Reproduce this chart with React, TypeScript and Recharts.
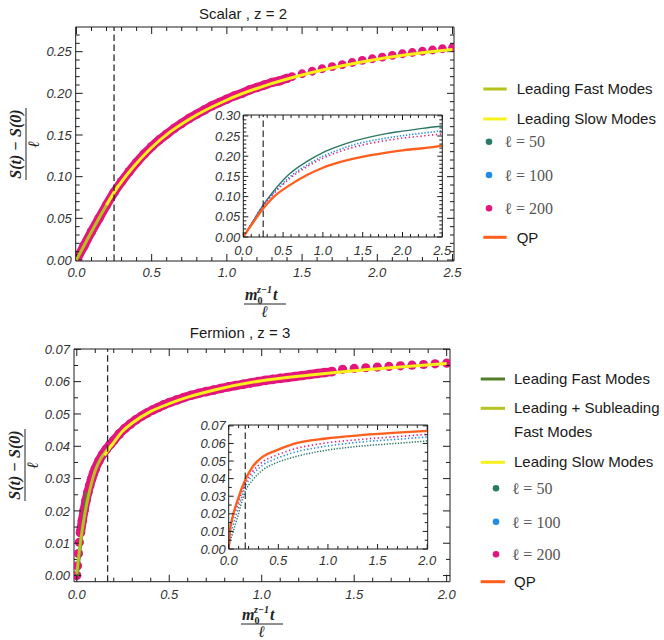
import React from 'react';
import { ComposedChart, Line, Scatter, XAxis, YAxis, ReferenceLine } from 'recharts';

// ---------------- DATA ----------------
// Scalar, z = 2 (main plot)
const scalarL200Dense: number[][] = [
  [0, 0], [0.05, 0.017], [0.1, 0.034], [0.15, 0.05], [0.2, 0.066], [0.25, 0.081],
  [0.3, 0.094], [0.35, 0.106], [0.4, 0.117], [0.45, 0.127], [0.5, 0.136], [0.55, 0.144],
  [0.6, 0.151], [0.65, 0.158], [0.7, 0.164], [0.75, 0.17], [0.8, 0.175], [0.85, 0.18],
  [0.9, 0.185], [0.95, 0.189], [1.0, 0.193], [1.05, 0.197], [1.1, 0.2], [1.15, 0.204],
  [1.2, 0.207], [1.25, 0.21], [1.3, 0.213], [1.35, 0.215], [1.4, 0.218],
];
const scalarL200Sparse: number[][] = [
  [1.433, 0.22], [1.5, 0.2235], [1.567, 0.2265], [1.633, 0.2295], [1.7, 0.232], [1.767, 0.2345],
  [1.833, 0.237], [1.9, 0.2395], [1.967, 0.2415], [2.033, 0.2435], [2.1, 0.2455], [2.167, 0.2475],
  [2.233, 0.249], [2.3, 0.2505], [2.367, 0.252], [2.433, 0.2535], [2.5, 0.255],
];
const scalarFast: number[][] = [[0, 0], [0.1, 0.034], [0.2, 0.066], [0.28, 0.09]];
const scalarSlow: number[][] = [
  [0.2, 0.066], [0.25, 0.081], [0.375, 0.111], [0.5, 0.135], [0.625, 0.154], [0.75, 0.169],
  [1.0, 0.192], [1.25, 0.209], [1.5, 0.222], [1.75, 0.2325], [2.0, 0.241], [2.25, 0.2475], [2.5, 0.2525],
];
const scalarTimeScale = 0.25;

// Scalar inset
const scalarInsetX = [0, 0.125, 0.25, 0.375, 0.585, 0.8, 1.0, 1.2, 1.4, 1.6, 1.8, 2.0, 2.25, 2.5];
const scalarInsetL50 = [0, 0.04, 0.079, 0.112, 0.157, 0.187, 0.209, 0.225, 0.238, 0.248, 0.256, 0.262, 0.269, 0.275];
const scalarInsetL100 = [0, 0.04, 0.078, 0.108, 0.149, 0.178, 0.2, 0.216, 0.229, 0.238, 0.245, 0.251, 0.257, 0.263];
const scalarInsetL200 = [0, 0.04, 0.078, 0.106, 0.145, 0.174, 0.195, 0.211, 0.223, 0.232, 0.239, 0.245, 0.25, 0.255];
const scalarInsetQP = [0, 0.036, 0.0705, 0.098, 0.1285, 0.1535, 0.1715, 0.1845, 0.1945, 0.2025, 0.209, 0.2145, 0.2197, 0.2264];

// Fermion, z = 3 (main plot)
const fermionL200Start: number[][] = [[0, 0], [0.004, 0.003], [0.009, 0.0068], [0.014, 0.0103]];
const fermionL200Dense: number[][] = [
  [0.02, 0.0133], [0.03, 0.017], [0.04, 0.0203], [0.05, 0.0232], [0.06, 0.0257], [0.07, 0.0279],
  [0.08, 0.0298], [0.09, 0.0315], [0.1, 0.033], [0.12, 0.0355], [0.14, 0.0375], [0.16, 0.0391],
  [0.18, 0.0405], [0.2, 0.0418], [0.23, 0.0438], [0.26, 0.0455], [0.29, 0.0469], [0.32, 0.0482],
  [0.35, 0.0493], [0.38, 0.0503], [0.41, 0.0512], [0.44, 0.052], [0.47, 0.0528], [0.5, 0.0535],
  [0.54, 0.0543], [0.58, 0.0551], [0.62, 0.0558], [0.66, 0.0564], [0.7, 0.0569], [0.74, 0.0574],
  [0.78, 0.0579], [0.82, 0.0584], [0.86, 0.0588], [0.9, 0.0592], [0.94, 0.0596], [0.98, 0.06],
  [1.02, 0.0604], [1.06, 0.0607], [1.1, 0.061], [1.14, 0.0613], [1.18, 0.0616], [1.22, 0.0619],
  [1.26, 0.0622], [1.3, 0.0625], [1.34, 0.0628], [1.38, 0.0631],
];
const fermionL200Sparse: number[][] = [
  [1.4375, 0.0638], [1.5, 0.0641], [1.5625, 0.0643], [1.625, 0.0645], [1.6875, 0.0647],
  [1.75, 0.0649], [1.8125, 0.0651], [1.875, 0.0653], [1.9375, 0.0655], [2.0, 0.0657],
];
const fermionFast: number[][] = [[0.003, 0], [0.03, 0.0145], [0.054, 0.0257]];
const fermionFastSub: number[][] = [
  [0, 0.0005], [0.01, 0.0058], [0.02, 0.0103], [0.03, 0.0143], [0.04, 0.0178], [0.05, 0.021],
  [0.06, 0.0238], [0.08, 0.0287], [0.1, 0.0325], [0.13, 0.0362], [0.16, 0.0386], [0.2, 0.041],
];
const fermionSlow: number[][] = [
  [0.15, 0.0372], [0.2, 0.0412], [0.25, 0.0448], [0.3, 0.0472], [0.4, 0.0508], [0.5, 0.0532],
  [0.6, 0.0552], [0.75, 0.0575], [1.0, 0.0603], [1.25, 0.062], [1.5, 0.0634], [1.75, 0.0645], [2.0, 0.0656],
];
const fermionTimeScale = 0.1667;

// Fermion inset
const fermionInsetX = [0, 0.013, 0.04, 0.09, 0.165, 0.24, 0.34, 0.48, 0.64, 0.98, 1.31, 1.65, 2.0];
const fermionInsetQP = [0, 0.0108, 0.0183, 0.0278, 0.0391, 0.0467, 0.0524, 0.0561, 0.0595, 0.0628, 0.0646, 0.066, 0.0671];
const fermionInsetL200 = [0, 0.0085, 0.0164, 0.025, 0.0372, 0.0439, 0.0495, 0.0533, 0.0565, 0.0603, 0.0622, 0.0637, 0.0652];
const fermionInsetL100 = [0, 0.006, 0.0127, 0.0221, 0.0353, 0.042, 0.0476, 0.0514, 0.0546, 0.0584, 0.0607, 0.0622, 0.0637];
const fermionInsetL50 = [0, 0.004, 0.0089, 0.0183, 0.0325, 0.0391, 0.0448, 0.049, 0.052, 0.0561, 0.0584, 0.0599, 0.0614];

// Legends / titles
const scalarTitle = 'Scalar , z = 2';
const fermionTitle = 'Fermion , z = 3';
const scalarLegendLines = ['Leading Fast Modes', 'Leading Slow Modes'];
const fermionLegendLines = ['Leading Fast Modes', 'Leading + Subleading', 'Fast Modes', 'Leading Slow Modes'];
const dotLabels = ['ℓ = 50', 'ℓ = 100', 'ℓ = 200'];
const qpLabel = 'QP';

// ---------------- STYLE ----------------
const C = {
  fast: '#b4c21c',
  fastDark: '#537d29',
  sub: '#b6c320',
  slow: '#f7f01a',
  l50: '#2b7866',
  l100: '#1f8be6',
  l200: '#e2167d',
  qp: '#ff5f1c',
  frame: '#1c1c1c',
  dash: '#2a2a2a',
  tickText: '#333333',
};
const SANS = '"Liberation Sans", Arial, sans-serif';
const SERIF = '"Liberation Serif", "DejaVu Serif", serif';

const pts = (a: number[][]) => a.map(([x, y]) => ({ x, y }));
const zip = (xs: number[], ys: number[]) => xs.map((x, i) => ({ x, y: ys[i] }));
const steps = (a: number, b: number, s: number) => {
  const out: number[] = [];
  const n = Math.round((b - a) / s);
  for (let i = 0; i <= n; i++) out.push(+(a + i * s).toFixed(6));
  return out;
};

type Side = 'bottom' | 'top' | 'left' | 'right';
const tickR = (
  side: Side,
  majors: number[],
  digits: number,
  majorLen: number,
  minorLen: number,
  labels: boolean,
  off: number,
) => (props: any) => {
  const { x, y, payload } = props;
  const v = payload.value as number;
  const isMajor = majors.some((m) => Math.abs(m - v) < 1e-9);
  const L = isMajor ? majorLen : minorLen;
  let x2 = x;
  let y2 = y;
  if (side === 'bottom') y2 = y - L;
  if (side === 'top') y2 = y + L;
  if (side === 'left') x2 = x + L;
  if (side === 'right') x2 = x - L;
  let label: React.ReactNode = null;
  if (labels && isMajor) {
    const common = { fontFamily: SANS, fontStyle: 'italic', fontSize: 13, fill: C.tickText };
    if (side === 'bottom')
      label = (
        <text x={x} y={y + off} textAnchor="middle" {...common}>
          {v.toFixed(digits)}
        </text>
      );
    if (side === 'left')
      label = (
        <text x={x - off} y={y + 4.6} textAnchor="end" {...common}>
          {v.toFixed(digits)}
        </text>
      );
  }
  return (
    <g>
      <line x1={x} y1={y} x2={x2} y2={y2} stroke={C.frame} strokeWidth={1} />
      {label}
    </g>
  );
};

type FrameCfg = {
  w: number;
  h: number;
  left: number;
  right: number;
  top: number;
  bottom: number;
  xDomain: [number, number];
  yDomain: [number, number];
  xTicks: number[];
  xMajors: number[];
  yTicks: number[];
  yMajors: number[];
  xDigits: number;
  yDigits: number;
  majorLen: number;
  minorLen: number;
  xOff: number;
  yOff: number;
};

// visible=false gives the same scales with no drawn axis (for an overlay layer)
function frameAxes(f: FrameCfg, visible = true) {
  const axisLine = visible ? { stroke: C.frame, strokeWidth: 1 } : false;
  const tk = (side: Side, majors: number[], digits: number, labels: boolean, off: number) =>
    visible ? tickR(side, majors, digits, f.majorLen, f.minorLen, labels, off) : false;
  return [
    <XAxis
      key="xb"
      type="number"
      dataKey="x"
      domain={f.xDomain}
      allowDataOverflow
      ticks={f.xTicks}
      interval={0}
      height={f.bottom}
      tickSize={0}
      tickMargin={0}
      tickLine={false}
      axisLine={axisLine}
      tick={tk('bottom', f.xMajors, f.xDigits, true, f.xOff)}
    />,
    <XAxis
      key="xt"
      xAxisId="top"
      orientation="top"
      type="number"
      dataKey="x"
      domain={f.xDomain}
      allowDataOverflow
      ticks={f.xTicks}
      interval={0}
      height={f.top}
      tickSize={0}
      tickMargin={0}
      tickLine={false}
      axisLine={axisLine}
      tick={tk('top', f.xMajors, f.xDigits, false, 0)}
    />,
    <YAxis
      key="yl"
      type="number"
      dataKey="y"
      domain={f.yDomain}
      allowDataOverflow
      ticks={f.yTicks}
      interval={0}
      width={f.left}
      tickSize={0}
      tickMargin={0}
      tickLine={false}
      axisLine={axisLine}
      tick={tk('left', f.yMajors, f.yDigits, true, f.yOff)}
    />,
    <YAxis
      key="yr"
      yAxisId="right"
      orientation="right"
      type="number"
      dataKey="y"
      domain={f.yDomain}
      allowDataOverflow
      ticks={f.yTicks}
      interval={0}
      width={f.right}
      tickSize={0}
      tickMargin={0}
      tickLine={false}
      axisLine={axisLine}
      tick={tk('right', f.yMajors, f.yDigits, false, 0)}
    />,
  ];
}

const noMargin = { top: 0, right: 0, bottom: 0, left: 0 };
const layerStyle: React.CSSProperties = { position: 'absolute', left: 0, top: 0 };

const dotShape = (r: number, fill: string) => (p: any) => <circle cx={p.cx} cy={p.cy} r={r} fill={fill} />;

const dashLine = (x: number, w = 1.3) => (
  <ReferenceLine x={x} stroke={C.dash} strokeWidth={w} strokeDasharray="6.5 3.5" ifOverflow="hidden" />
);

const line = (data: { x: number; y: number }[], color: string, width: number, dash?: string) => (
  <Line
    data={data}
    dataKey="y"
    type="monotone"
    stroke={color}
    strokeWidth={width}
    strokeDasharray={dash}
    dot={false}
    activeDot={false}
    isAnimationActive={false}
  />
);

const scalarMainCfg: FrameCfg = {
  w: 664, h: 320, left: 75.7, right: 210, top: 27, bottom: 59,
  xDomain: [-0.005, 2.51], yDomain: [-0.0012, 0.2796],
  xTicks: steps(0, 2.5, 0.1), xMajors: steps(0, 2.5, 0.5),
  yTicks: steps(0, 0.27, 0.01), yMajors: steps(0, 0.25, 0.05),
  xDigits: 1, yDigits: 2, majorLen: 7, minorLen: 4, xOff: 16, yOff: 4,
};

function ScalarMain() {
  const f = scalarMainCfg;
  return (
    <div style={{ position: 'relative', width: f.w, height: f.h }}>
      <div style={layerStyle}>
        <ComposedChart width={f.w} height={f.h} margin={noMargin}>
          {frameAxes(f)}
          <Line
            data={pts(scalarL200Dense)}
            dataKey="y"
            type="monotone"
            stroke={C.l200}
            strokeWidth={9}
            strokeLinecap="round"
            dot={{ r: 4.7, fill: C.l200, stroke: 'none' }}
            activeDot={false}
            isAnimationActive={false}
          />
          <Scatter data={pts(scalarL200Sparse)} dataKey="y" shape={dotShape(4.4, C.l200)} isAnimationActive={false} />
        </ComposedChart>
      </div>
      <div style={layerStyle}>
        <ComposedChart width={f.w} height={f.h} margin={noMargin}>
          {frameAxes(f, false)}
          {line(pts(scalarFast), C.fast, 3)}
          {line(pts(scalarSlow), C.slow, 3)}
          {dashLine(scalarTimeScale)}
        </ComposedChart>
      </div>
    </div>
  );
}

function ScalarInset() {
  const f: FrameCfg = {
    w: 262, h: 170, left: 43.3, right: 19.7, top: 15, bottom: 33,
    xDomain: [0, 2.5], yDomain: [0, 0.302],
    xTicks: steps(0, 2.5, 0.1), xMajors: steps(0, 2.5, 0.5),
    yTicks: steps(0, 0.3, 0.01), yMajors: steps(0, 0.3, 0.05),
    xDigits: 1, yDigits: 2, majorLen: 5, minorLen: 3, xOff: 18, yOff: 3,
  };
  return (
    <ComposedChart width={f.w} height={f.h} margin={noMargin}>
      {frameAxes(f)}
      {line(zip(scalarInsetX, scalarInsetL50), C.l50, 1.4)}
      {line(zip(scalarInsetX, scalarInsetL100), C.l100, 1.6, '1.3 1.8')}
      {line(zip(scalarInsetX, scalarInsetL200), C.l200, 1.6, '1.3 2.6')}
      {line(zip(scalarInsetX, scalarInsetQP), C.qp, 2.3)}
      {dashLine(scalarTimeScale, 1.2)}
    </ComposedChart>
  );
}

const fermionMainCfg: FrameCfg = {
  w: 664, h: 320, left: 74, right: 214, top: 29, bottom: 58.3,
  xDomain: [-0.015, 2.018], yDomain: [-0.0019, 0.0701],
  xTicks: steps(0, 2.0, 0.1), xMajors: steps(0, 2.0, 0.5),
  yTicks: steps(0, 0.07, 0.005), yMajors: steps(0, 0.07, 0.01),
  xDigits: 1, yDigits: 2, majorLen: 7, minorLen: 4, xOff: 17, yOff: 4,
};

function FermionMain() {
  const f = fermionMainCfg;
  return (
    <div style={{ position: 'relative', width: f.w, height: f.h }}>
      <div style={layerStyle}>
        <ComposedChart width={f.w} height={f.h} margin={noMargin}>
          {frameAxes(f)}
          <Scatter data={pts(fermionL200Start)} dataKey="y" shape={dotShape(4.6, C.l200)} isAnimationActive={false} />
          <Line
            data={pts(fermionL200Dense)}
            dataKey="y"
            type="monotone"
            stroke={C.l200}
            strokeWidth={9}
            strokeLinecap="round"
            dot={{ r: 4.8, fill: C.l200, stroke: 'none' }}
            activeDot={false}
            isAnimationActive={false}
          />
          <Scatter data={pts(fermionL200Sparse)} dataKey="y" shape={dotShape(4.6, C.l200)} isAnimationActive={false} />
        </ComposedChart>
      </div>
      <div style={layerStyle}>
        <ComposedChart width={f.w} height={f.h} margin={noMargin}>
          {frameAxes(f, false)}
          {line(pts(fermionFast), C.fastDark, 3)}
          {line(pts(fermionFastSub), C.sub, 3)}
          {line(pts(fermionSlow), C.slow, 3)}
          {dashLine(fermionTimeScale)}
        </ComposedChart>
      </div>
    </div>
  );
}

function FermionInset() {
  const f: FrameCfg = {
    w: 258, h: 165, left: 38.7, right: 20.3, top: 10, bottom: 31,
    xDomain: [0, 2.005], yDomain: [0, 0.0705],
    xTicks: steps(0, 2.0, 0.1), xMajors: steps(0, 2.0, 0.5),
    yTicks: steps(0, 0.07, 0.005), yMajors: steps(0, 0.07, 0.01),
    xDigits: 1, yDigits: 2, majorLen: 5, minorLen: 3, xOff: 16, yOff: 3,
  };
  return (
    <ComposedChart width={f.w} height={f.h} margin={noMargin}>
      {frameAxes(f)}
      {line(zip(fermionInsetX, fermionInsetL50), C.l50, 1.5, '1.3 1.5')}
      {line(zip(fermionInsetX, fermionInsetL100), C.l100, 1.6, '1.3 2.2')}
      {line(zip(fermionInsetX, fermionInsetL200), C.l200, 1.6, '1.3 2.6')}
      {line(zip(fermionInsetX, fermionInsetQP), C.qp, 2.4)}
      {dashLine(fermionTimeScale, 1.2)}
    </ComposedChart>
  );
}

function YFrac({ cx, cy }: { cx: number; cy: number }) {
  return (
    <g transform={`translate(${cx},${cy}) rotate(-90)`}>
      <text x={0} y={-5} textAnchor="middle" fontFamily={SERIF} fontStyle="italic" fontWeight="bold" fontSize={16} fill="#222">
        S(t) − S(0)
      </text>
      <line x1={-36} x2={36} y1={0} y2={0} stroke="#222" strokeWidth={1} />
      <text x={0} y={13} textAnchor="middle" fontFamily={SERIF} fontStyle="italic" fontWeight="bold" fontSize={16} fill="#222">
        ℓ
      </text>
    </g>
  );
}

function XFrac({ cx, base }: { cx: number; base: number }) {
  return (
    <g>
      <text x={cx - 20} y={base} fontFamily={SERIF} fontStyle="italic" fontWeight="bold" fontSize={16} fill="#222">
        m
        <tspan dy={4} fontSize={10} fontStyle="normal">0</tspan>
        <tspan dx={-5.5} dy={-11} fontSize={10}>z−1</tspan>
        <tspan dx={1} dy={7}>t</tspan>
      </text>
      <line x1={cx - 21} x2={cx + 21} y1={base + 4} y2={base + 4} stroke="#222" strokeWidth={1} />
      <text x={cx} y={base + 17} textAnchor="middle" fontFamily={SERIF} fontStyle="italic" fontWeight="bold" fontSize={16} fill="#222">
        ℓ
      </text>
    </g>
  );
}

function LegendLine({ x1, x2, y, color }: { x1: number; x2: number; y: number; color: string }) {
  return <line x1={x1} x2={x2} y1={y} y2={y} stroke={color} strokeWidth={3} />;
}

function Overlay() {
  const t = { fontFamily: SANS, fontSize: 15, fill: '#1a1a1a' };
  const m = { fontFamily: SERIF, fontSize: 16, fill: '#555' };
  const dotColors = [C.l50, C.l100, C.l200];
  const sDotY = [141.7, 175, 208.3];
  const fDotY = [488.3, 521.7, 554.3];
  return (
    <svg width={664} height={640} style={{ position: 'absolute', left: 0, top: 0, pointerEvents: 'none' }}>
      <text x={243} y={18.5} textAnchor="middle" {...t}>{scalarTitle}</text>
      <text x={240} y={338.3} textAnchor="middle" {...t}>{fermionTitle}</text>

      <YFrac cx={26} cy={144} />
      <YFrac cx={25} cy={465} />
      <XFrac cx={265} base={300} />
      <XFrac cx={262} base={620} />

      {/* Scalar legend */}
      <LegendLine x1={483.3} x2={506.7} y={89} color={C.fast} />
      <text x={516.7} y={94} {...t}>{scalarLegendLines[0]}</text>
      <LegendLine x1={483.3} x2={506.7} y={119} color={C.slow} />
      <text x={516.7} y={123.5} {...t}>{scalarLegendLines[1]}</text>
      {dotLabels.map((lab, i) => (
        <g key={'s' + i}>
          <circle cx={489} cy={sDotY[i]} r={3.3} fill={dotColors[i]} />
          <text x={504.3} y={sDotY[i] + 5.5} {...m}>{lab}</text>
        </g>
      ))}
      <LegendLine x1={483.3} x2={506.7} y={237.3} color={C.qp} />
      <text x={516.7} y={242.7} {...t}>{qpLabel}</text>

      {/* Fermion legend */}
      <LegendLine x1={480.7} x2={505} y={379} color={C.fastDark} />
      <text x={514} y={384} {...t}>{fermionLegendLines[0]}</text>
      <LegendLine x1={480.7} x2={505} y={408.3} color={C.sub} />
      <text x={514} y={413.3} {...t}>{fermionLegendLines[1]}</text>
      <text x={514} y={436.7} {...t}>{fermionLegendLines[2]}</text>
      <LegendLine x1={480.7} x2={505} y={462.3} color={C.slow} />
      <text x={514} y={467.3} {...t}>{fermionLegendLines[3]}</text>
      {dotLabels.map((lab, i) => (
        <g key={'f' + i}>
          <circle cx={496} cy={fDotY[i]} r={3.3} fill={dotColors[i]} />
          <text x={511.7} y={fDotY[i] + 6} {...m}>{lab}</text>
        </g>
      ))}
      <LegendLine x1={480.7} x2={505} y={581.7} color={C.qp} />
      <text x={514} y={586.7} {...t}>{qpLabel}</text>
    </svg>
  );
}

export default function App() {
  return (
    <div style={{ position: 'absolute', left: 0, top: 0, width: 664, height: 640, background: '#fff', overflow: 'hidden' }}>
      <div style={{ position: 'absolute', left: 0, top: 0 }}>
        <ScalarMain />
      </div>
      <div style={{ position: 'absolute', left: 200, top: 100 }}>
        <ScalarInset />
      </div>
      <div style={{ position: 'absolute', left: 0, top: 320 }}>
        <FermionMain />
      </div>
      <div style={{ position: 'absolute', left: 190, top: 415 }}>
        <FermionInset />
      </div>
      <Overlay />
    </div>
  );
}
